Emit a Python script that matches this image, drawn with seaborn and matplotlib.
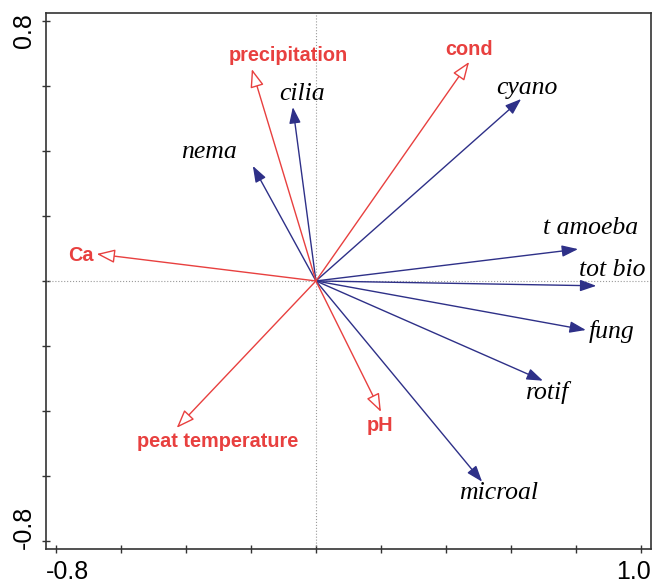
import matplotlib
matplotlib.use("Agg")
import matplotlib.pyplot as plt
import seaborn as sns
import numpy as np

sns.set_theme(style="white")
plt.rcParams["font.family"] = ["Liberation Sans", "DejaVu Sans"]

# species (response) arrows
species = ["cilia", "nema", "cyano", "t amoeba", "tot bio", "fung", "rotif", "microal"]
sp_x = [-0.071, -0.194, 0.631, 0.806, 0.862, 0.830, 0.698, 0.511]
sp_y = [0.535, 0.354, 0.560, 0.098, -0.015, -0.151, -0.307, -0.618]
sp_lab_x = [-0.043, -0.329, 0.649, 0.843, 0.911, 0.908, 0.711, 0.563]
sp_lab_y = [0.575, 0.397, 0.594, 0.163, 0.034, -0.157, -0.342, -0.652]

# environmental arrows
env = ["precipitation", "cond", "Ca", "peat temperature", "pH"]
env_x = [-0.197, 0.471, -0.674, -0.428, 0.200]
env_y = [0.652, 0.674, 0.083, -0.452, -0.403]
env_lab_x = [-0.086, 0.471, -0.723, -0.302, 0.197]
env_lab_y = [0.695, 0.711, 0.077, -0.495, -0.446]

x_ticks = [-0.8, -0.6, -0.4, -0.2, 0.0, 0.2, 0.4, 0.6, 0.8, 1.0]
y_ticks = [-0.8, -0.6, -0.4, -0.2, 0.0, 0.2, 0.4, 0.6, 0.8]
x_end_labels = ["-0.8", "1.0"]
y_end_labels = ["-0.8", "0.8"]

navy = "#2e3088"
red = "#e8403f"

fig = plt.figure(figsize=(6.54, 5.85), dpi=100)
ax = fig.add_axes([0.0703, 0.0615, 0.925, 0.9165])
ax.set_xlim(-0.83, 1.03)
ax.set_ylim(-0.825, 0.825)

ax.axhline(0, color="#9a9a9a", lw=0.8, ls=":", zorder=1)
ax.axvline(0, color="#9a9a9a", lw=0.8, ls=":", zorder=1)

for name, x, y, lx, ly in zip(species, sp_x, sp_y, sp_lab_x, sp_lab_y):
    ax.annotate("", xy=(x, y), xytext=(0, 0),
                arrowprops=dict(arrowstyle="-|>,head_length=0.7,head_width=0.25",
                                color=navy, lw=1.0, shrinkA=0, shrinkB=0,
                                mutation_scale=14))
    ax.text(lx, ly, name, ha="center", va="center", fontsize=18.5,
            family="Liberation Serif", style="italic", color="black")

for name, x, y, lx, ly in zip(env, env_x, env_y, env_lab_x, env_lab_y):
    ax.annotate("", xy=(x, y), xytext=(0, 0),
                arrowprops=dict(arrowstyle="-|>,head_length=0.8,head_width=0.3",
                                fc="white", ec=red, lw=1.0, shrinkA=0, shrinkB=0,
                                mutation_scale=14))
    ax.text(lx, ly, name, ha="center", va="center", fontsize=14.3,
            fontweight="bold", color=red)

# ticks without labels; end labels sit flush with the frame like the original
ax.set_xticks(x_ticks)
ax.set_yticks(y_ticks)
ax.set_xticklabels([])
ax.set_yticklabels([])
ax.tick_params(axis="both", direction="inout", length=6, width=1, color="#333333",
               left=True, bottom=True)

lab_kw = dict(xycoords="axes fraction", textcoords="offset points",
              fontsize=18, color="black")
ax.annotate(x_end_labels[0], xy=(0, 0), xytext=(0, -8), ha="left", va="top", **lab_kw)
ax.annotate(x_end_labels[1], xy=(1, 0), xytext=(0, -8), ha="right", va="top", **lab_kw)
ax.annotate(y_end_labels[0], xy=(0, 0), xytext=(-7, 0), ha="right", va="bottom",
            rotation=90, **lab_kw)
ax.annotate(y_end_labels[1], xy=(0, 1), xytext=(-7, 0), ha="right", va="top",
            rotation=90, **lab_kw)

for s in ax.spines.values():
    s.set_color("#333333")
    s.set_linewidth(1.2)

ax.grid(False)
fig.savefig("out.png", dpi=100, facecolor="white")
